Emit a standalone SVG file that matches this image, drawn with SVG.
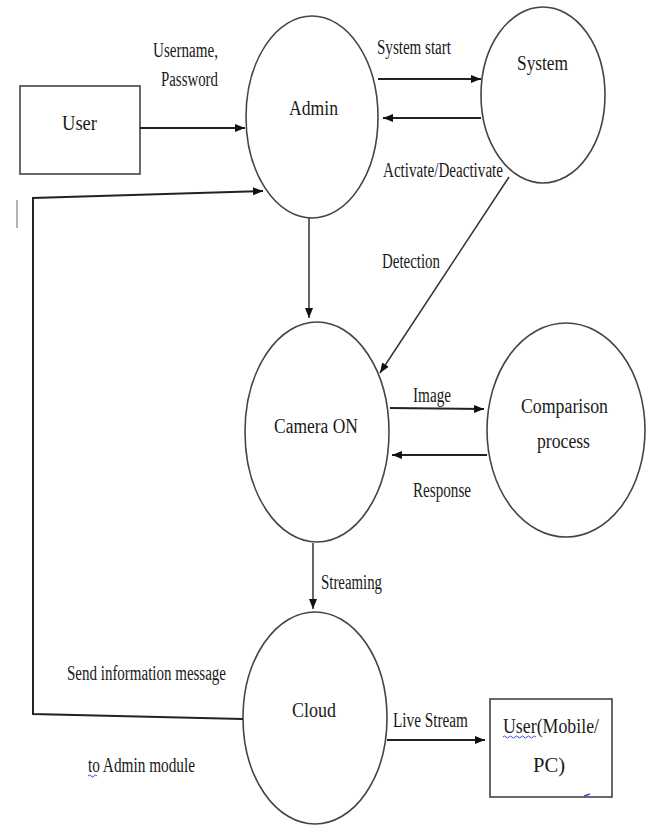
<svg xmlns="http://www.w3.org/2000/svg" width="647" height="826" viewBox="0 0 647 826">
<style>
.node{fill:#fff;stroke:#444;stroke-width:1.6}
text{font-family:'Liberation Serif','Times New Roman','DejaVu Serif',serif;font-size:20px;fill:#1a1a1a}
.c{stroke:#222;stroke-width:2;fill:none}
.thin{stroke:#333;stroke-width:1.5;fill:none}
.sq{stroke:#3b4bd0;stroke-width:1;fill:none}
</style>
<defs>
<marker id="ah" markerUnits="userSpaceOnUse" markerWidth="10" markerHeight="10" viewBox="0 0 10 10" refX="10" refY="5" orient="auto">
<path d="M0,1 L10,5 L0,9 z" fill="#111"/>
</marker>
</defs>
<rect width="647" height="826" fill="#fff"/>

<g id="user">
<rect class="node" x="20" y="86" width="120" height="88"/>
<text x="62" y="130" textLength="35" lengthAdjust="spacingAndGlyphs">User</text>
</g>
<g id="admin">
<ellipse class="node" cx="312" cy="117" rx="66" ry="101"/>
<text x="289" y="115" textLength="49" lengthAdjust="spacingAndGlyphs">Admin</text>
</g>
<g id="system">
<ellipse class="node" cx="543" cy="95" rx="62" ry="88"/>
<text x="517" y="70" textLength="51" lengthAdjust="spacingAndGlyphs">System</text>
</g>
<g id="camera">
<ellipse class="node" cx="317" cy="432" rx="72" ry="110"/>
<text x="274" y="433" textLength="84" lengthAdjust="spacingAndGlyphs">Camera ON</text>
</g>
<g id="comparison">
<ellipse class="node" cx="566" cy="430" rx="79" ry="107"/>
<text x="521" y="413" textLength="87" lengthAdjust="spacingAndGlyphs">Comparison</text>
<text x="537" y="448" textLength="53" lengthAdjust="spacingAndGlyphs">process</text>
</g>
<g id="cloud">
<ellipse class="node" cx="315" cy="718" rx="72" ry="106"/>
<text x="292" y="717" textLength="44" lengthAdjust="spacingAndGlyphs">Cloud</text>
</g>
<g id="user-mobile">
<rect class="node" x="490" y="699" width="122" height="98"/>
<text x="503" y="733" textLength="96" lengthAdjust="spacingAndGlyphs">User(Mobile/</text>
<text x="533" y="772" textLength="32" lengthAdjust="spacingAndGlyphs">PC)</text>
<path class="sq" d="M503,737 q1.5,-2 3,0 t3,0 t3,0 t3,0 t3,0 t3,0 t3,0 t3,0 t3,0 t3,0 t3,0"/>
<path d="M584,796 l6,-2" stroke="#3b4bd0" stroke-width="1.5"/>
</g>

<g id="connectors">
<line class="c" x1="140" y1="128" x2="245" y2="128" marker-end="url(#ah)"/>
<line class="c" x1="378" y1="79" x2="481" y2="79" marker-end="url(#ah)"/>
<line class="c" x1="481" y1="118" x2="383" y2="118" marker-end="url(#ah)"/>
<line class="thin" x1="509" y1="177" x2="380" y2="373" marker-end="url(#ah)"/>
<line class="thin" x1="309" y1="218" x2="309" y2="318" marker-end="url(#ah)"/>
<line class="c" x1="390" y1="408" x2="484" y2="409" marker-end="url(#ah)"/>
<line class="c" x1="487" y1="455" x2="392" y2="455" marker-end="url(#ah)"/>
<line class="thin" x1="313" y1="543" x2="313" y2="609" marker-end="url(#ah)"/>
<line class="c" x1="387" y1="740" x2="485" y2="740" marker-end="url(#ah)"/>
<polyline class="c" points="243,719 33,714 33,198 263,191" marker-end="url(#ah)"/>
</g>

<g id="labels">
<text x="153" y="57" textLength="65" lengthAdjust="spacingAndGlyphs">Username,</text>
<text x="161" y="86" textLength="57" lengthAdjust="spacingAndGlyphs">Password</text>
<text x="377" y="54" textLength="74" lengthAdjust="spacingAndGlyphs">System start</text>
<text x="383" y="177" textLength="120" lengthAdjust="spacingAndGlyphs">Activate/Deactivate</text>
<text x="382" y="268" textLength="58" lengthAdjust="spacingAndGlyphs">Detection</text>
<text x="413" y="402" textLength="38" lengthAdjust="spacingAndGlyphs">Image</text>
<text x="413" y="497" textLength="58" lengthAdjust="spacingAndGlyphs">Response</text>
<text x="321" y="589" textLength="61" lengthAdjust="spacingAndGlyphs">Streaming</text>
<text x="67" y="680" textLength="159" lengthAdjust="spacingAndGlyphs">Send information message</text>
<text x="88" y="772" textLength="107" lengthAdjust="spacingAndGlyphs">to Admin module</text>
<path class="sq" d="M88,776 q1.5,-2 3,0 t3,0 t3,0"/>
<text x="393" y="727" textLength="75" lengthAdjust="spacingAndGlyphs">Live Stream</text>
<line x1="17" y1="200" x2="17" y2="228" stroke="#999" stroke-width="1.5"/>
</g>
</svg>
